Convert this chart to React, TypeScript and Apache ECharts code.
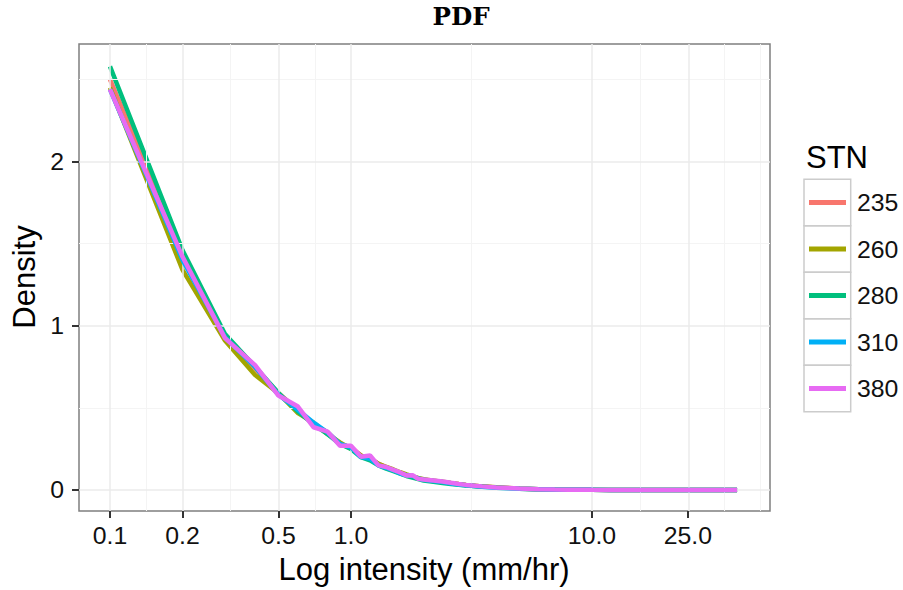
import React, { useEffect, useRef } from "react";
import * as echarts from "echarts";

// Intensity values (mm/hr) at which the densities were evaluated
const intensity = [
  0.1, 0.2, 0.3, 0.4, 0.5, 0.6, 0.7, 0.8, 0.9, 1.0,
  1.1, 1.2, 1.3, 1.4, 1.5, 1.6, 1.7, 1.8, 1.9, 2.0,
  2.2, 2.4, 2.6, 2.8, 3.0, 3.5, 4, 5, 6, 7,
  8, 10, 12, 15, 20, 25, 30, 40,
];

const stationNames = ["235", "260", "280", "310", "380"];
const stationColors = ["#F8766D", "#A3A500", "#00BF7D", "#00B0F6", "#E76BF3"];

const density235 = [
  2.5, 1.44, 0.93, 0.74, 0.59, 0.49, 0.4, 0.35, 0.28, 0.26,
  0.21, 0.19, 0.16, 0.14, 0.12, 0.105, 0.09, 0.08, 0.07, 0.063,
  0.056, 0.048, 0.041, 0.035, 0.03, 0.021, 0.015, 0.008, 0.005, 0.003,
  0.002, 0.001, 0.0006, 0.0004, 0.0002, 0.0001, 0.0001, 0.0,
];
const density260 = [
  2.45, 1.34, 0.91, 0.7, 0.59, 0.47, 0.41, 0.34, 0.29, 0.25,
  0.21, 0.19, 0.16, 0.14, 0.125, 0.108, 0.095, 0.083, 0.073, 0.065,
  0.057, 0.05, 0.042, 0.036, 0.031, 0.022, 0.016, 0.009, 0.005, 0.003,
  0.002, 0.001, 0.0006, 0.0004, 0.0002, 0.0001, 0.0001, 0.0,
];
const density280 = [
  2.58, 1.46, 0.95, 0.75, 0.59, 0.48, 0.4, 0.34, 0.28, 0.25,
  0.2, 0.18, 0.15, 0.13, 0.115, 0.1, 0.085, 0.075, 0.066, 0.058,
  0.05, 0.043, 0.037, 0.032, 0.027, 0.019, 0.013, 0.007, 0.004, 0.002,
  0.0015, 0.001, 0.0005, 0.0003, 0.0002, 0.0001, 0.0001, 0.0,
];
const density310 = [
  2.44, 1.4, 0.93, 0.75, 0.58, 0.49, 0.41, 0.35, 0.28, 0.26,
  0.2, 0.19, 0.15, 0.135, 0.12, 0.1, 0.09, 0.085, 0.07, 0.062,
  0.055, 0.048, 0.04, 0.034, 0.029, 0.02, 0.014, 0.008, 0.005, 0.003,
  0.002, 0.001, 0.0006, 0.0004, 0.0002, 0.0001, 0.0001, 0.0,
];
const density380 = [
  2.44, 1.42, 0.925, 0.76, 0.575, 0.51, 0.382, 0.355, 0.27, 0.27,
  0.203, 0.21, 0.15, 0.14, 0.122, 0.107, 0.088, 0.09, 0.068, 0.064,
  0.058, 0.052, 0.044, 0.037, 0.031, 0.022, 0.015, 0.009, 0.005, 0.003,
  0.002, 0.001, 0.0006, 0.0004, 0.0002, 0.0001, 0.0001, 0.0,
];
const densities = [density235, density260, density280, density310, density380];

// Axis ticks and grid
const xTickValues = [0.1, 0.2, 0.5, 1, 10, 25];
const xTickLabels = ["0.1", "0.2", "0.5", "1.0", "10.0", "25.0"];
const xMinorGrid = [0.1414, 0.3162, 0.7071, 3.162, 15.81, 35.36, 50];
const yTickValues = [0, 1, 2];
const yTickLabels = ["0", "1", "2"];
const yMinorGrid = [0.5, 1.5, 2.5];

const SANS = '"Liberation Sans", Arial, Helvetica, sans-serif';

export default function App() {
  const ref = useRef<HTMLDivElement>(null);

  useEffect(() => {
    if (!ref.current) return;
    const chart = echarts.init(ref.current, undefined, { renderer: "svg" });

    const gridLines: any[] = [
      ...xMinorGrid.map((v) => ({ xAxis: Math.log10(v), lineStyle: { color: "#f4f4f4", width: 1, type: "solid" } })),
      ...yMinorGrid.map((v) => ({ yAxis: v, lineStyle: { color: "#f4f4f4", width: 1, type: "solid" } })),
      ...xTickValues.map((v) => ({ xAxis: Math.log10(v), lineStyle: { color: "#ebebeb", width: 1.5, type: "solid" } })),
      ...yTickValues.map((v) => ({ yAxis: v, lineStyle: { color: "#ebebeb", width: 1.5, type: "solid" } })),
    ];

    const keyTop = 179.3;
    const keyH = 46.5;

    const option: any = {
      animation: false,
      backgroundColor: "#ffffff",
      grid: {
        left: 79,
        right: 133,
        top: 44,
        bottom: 79,
        show: true,
        borderColor: "#7f7f7f",
        borderWidth: 1.5,
        backgroundColor: "#ffffff",
        containLabel: false,
      },
      xAxis: {
        type: "value",
        min: -1.1286,
        max: 1.7386,
        axisLine: { show: false, onZero: false },
        splitLine: { show: false },
        axisTick: {
          show: true,
          customValues: xTickValues.map((v) => Math.log10(v)),
          length: 7,
          lineStyle: { color: "#333333", width: 2 },
        },
        axisLabel: {
          customValues: xTickValues.map((v) => Math.log10(v)),
          formatter: (val: number) => {
            let best = 0;
            for (let i = 0; i < xTickValues.length; i++) {
              if (Math.abs(Math.log10(xTickValues[i]) - val) < Math.abs(Math.log10(xTickValues[best]) - val)) best = i;
            }
            return xTickLabels[best];
          },
          margin: 12,
          color: "#111111",
          fontSize: 24.8,
          fontFamily: SANS,
        },
      },
      yAxis: {
        type: "value",
        min: -0.128,
        max: 2.716,
        axisLine: { show: false, onZero: false },
        splitLine: { show: false },
        axisTick: {
          show: true,
          customValues: yTickValues,
          length: 7,
          lineStyle: { color: "#333333", width: 2 },
        },
        axisLabel: {
          customValues: yTickValues,
          formatter: (val: number) => {
            const i = yTickValues.findIndex((t) => Math.abs(t - val) < 1e-6);
            return i >= 0 ? yTickLabels[i] : "";
          },
          margin: 15,
          color: "#111111",
          fontSize: 24.8,
          fontFamily: SANS,
        },
      },
      legend: {
        data: stationNames,
        orient: "vertical",
        left: 809,
        top: keyTop,
        padding: 0,
        itemGap: 0,
        itemWidth: 37,
        itemHeight: 5,
        icon: "rect",
        selectedMode: false,
        textStyle: {
          fontSize: 24.8,
          fontFamily: SANS,
          color: "#111111",
          lineHeight: keyH,
          padding: [0, 0, 0, 6],
        },
      },
      series: [
        {
          name: "grid",
          type: "line",
          data: [],
          z: 1,
          silent: true,
          markLine: {
            silent: true,
            symbol: ["none", "none"],
            label: { show: false },
            emphasis: { disabled: true },
            data: gridLines,
          },
        },
        ...stationNames.map((name, si) => ({
          name,
          type: "line",
          data: intensity.map((v, i) => [Math.log10(v), densities[si][i]]),
          showSymbol: false,
          symbol: "none",
          color: stationColors[si],
          lineStyle: { color: stationColors[si], width: 4.5 },
          z: 2 + si,
          silent: true,
        })),
      ],
      graphic: [
        {
          type: "text",
          x: 461,
          y: 16.7,
          style: {
            text: "PDF",
            fontFamily: '"DejaVu Serif", serif',
            fontWeight: "bold",
            fontSize: 24.5,
            fill: "#000000",
            textAlign: "center",
            textVerticalAlign: "middle",
          },
        },
        {
          type: "text",
          x: 424,
          y: 569.3,
          style: {
            text: "Log intensity (mm/hr)",
            fontFamily: SANS,
            fontSize: 31,
            fill: "#000000",
            textAlign: "center",
            textVerticalAlign: "middle",
          },
        },
        {
          type: "text",
          x: 24.3,
          y: 277,
          rotation: Math.PI / 2,
          style: {
            text: "Density",
            fontFamily: SANS,
            fontSize: 31,
            fill: "#000000",
            textAlign: "center",
            textVerticalAlign: "middle",
          },
        },
        {
          type: "text",
          x: 806,
          y: 157.3,
          style: {
            text: "STN",
            fontFamily: SANS,
            fontSize: 31,
            fill: "#000000",
            textAlign: "left",
            textVerticalAlign: "middle",
          },
        },
        ...stationNames.map((_, k) => ({
          type: "rect",
          shape: { x: 804, y: keyTop + keyH * k, width: 46.7, height: keyH },
          style: { fill: "none", stroke: "#cccccc", lineWidth: 1.5 },
          silent: true,
        })),
      ],
    };

    chart.setOption(option);
    return () => chart.dispose();
  }, []);

  return <div ref={ref} style={{ width: 903, height: 590, position: "absolute", left: 0, top: 0 }} />;
}
